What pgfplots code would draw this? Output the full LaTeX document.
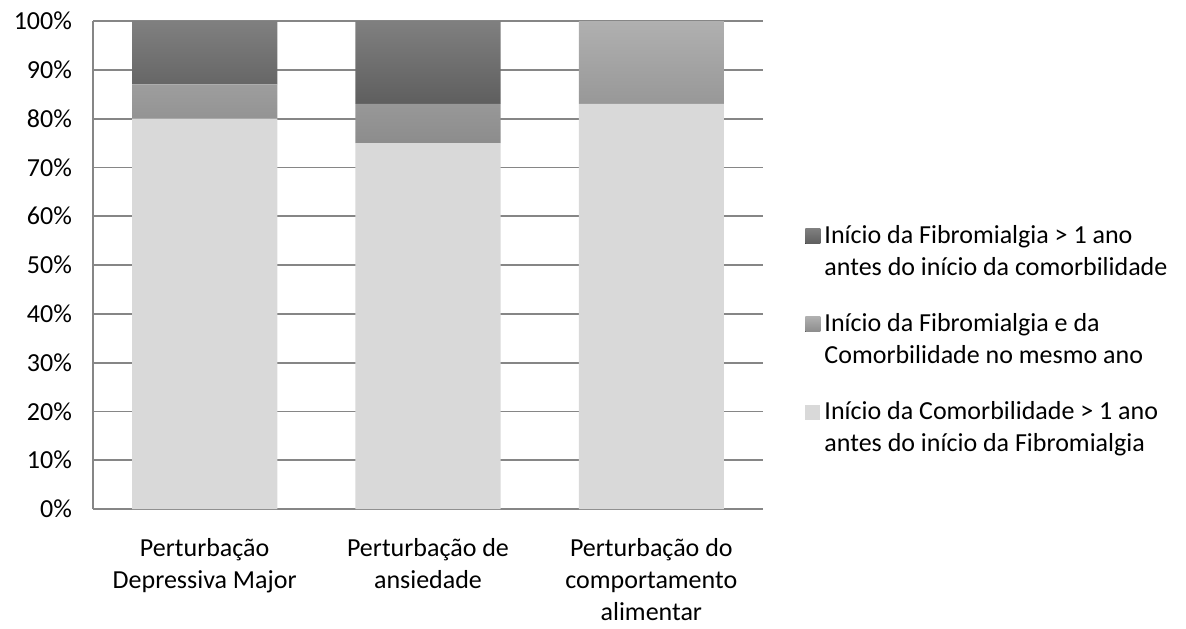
\documentclass[border=0pt]{standalone}
\usepackage{pgfplots}
\pgfplotsset{compat=1.18}
\usepackage{fontspec}
\setmainfont{Carlito}
\definecolor{gridc}{HTML}{868686}
\definecolor{lightc}{HTML}{D9D9D9}
\begin{document}
\begin{tikzpicture}
\useasboundingbox (0,0) rectangle (593pt,314pt);
\begin{axis}[
  at={(46.5pt,59.5pt)}, anchor=south west,
  scale only axis, width=335pt, height=244pt,
  ybar stacked, bar width=0.65,
  xmin=-0.5, xmax=2.5, ymin=0, ymax=100,
  xtick={0,1,2},
  xticklabels={{Perturbação\\Depressiva Major},{Perturbação de\\ansiedade},{Perturbação do\\comportamento\\alimentar}},
  ytick={0,10,...,100},
  yticklabel={\pgfmathprintnumber{\tick}\%},
  /pgf/number format/assume math mode=true,
  ymajorgrids, grid style={gridc, line width=0.9pt},
  axis x line*=bottom, axis y line*=left,
  axis line style={gridc, line width=0.9pt, -},
  major tick length=0pt,
  tick label style={font=\fontsize{13}{16.2}\selectfont},
  xticklabel style={align=center, yshift=-11pt},
  yticklabel style={xshift=-7pt},
  reverse legend,
  legend cell align=left,
  legend style={draw=none, at={(1.0625,0.346)}, anchor=west, inner sep=0pt,
    font=\fontsize{13}{16}\selectfont, cells={align=left}, row sep=13.5pt},
  legend image code/.code={\fill[#1] (0pt,4.2pt) rectangle (7.6pt,11.8pt);},
]
\addplot[draw=none, fill=lightc] coordinates {(0,80) (1,75) (2,83)};
\addplot[draw=none, top color=black!31, bottom color=black!45] coordinates {(0,7) (1,8) (2,17)};
\addplot[draw=none, top color=black!50, bottom color=black!63] coordinates {(0,13) (1,17) (2,0)};
\legend{{Início da Comorbilidade > 1 ano\\antes do início da Fibromialgia},
        {Início da Fibromialgia e da\\Comorbilidade no mesmo ano},
        {Início da Fibromialgia > 1 ano\\antes do início da comorbilidade}}
\end{axis}
\end{tikzpicture}
\end{document}
